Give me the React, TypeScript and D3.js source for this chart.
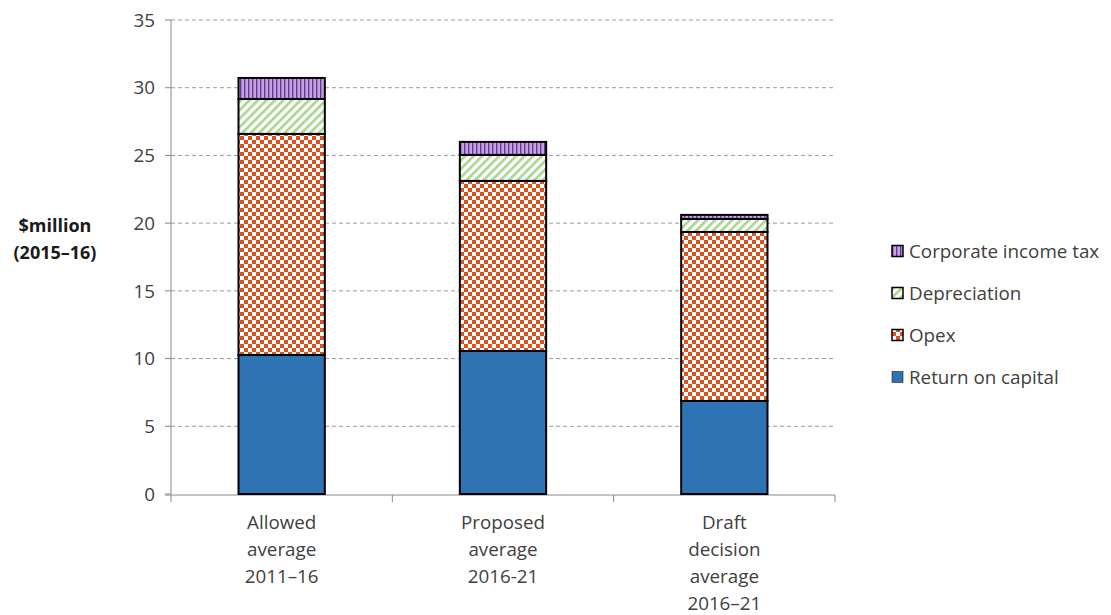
import React from "react";
import * as d3 from "d3";

const categories = [
  ["Allowed", "average", "2011–16"],
  ["Proposed", "average", "2016-21"],
  ["Draft", "decision", "average", "2016–21"],
];
const returnOnCapital = [10.27, 10.56, 6.87];
const opex = [16.32, 12.56, 12.48];
const depreciation = [2.58, 1.92, 0.96];
const corporateIncomeTax = [1.55, 0.96, 0.3];
const seriesNames = ["Return on capital", "Opex", "Depreciation", "Corporate income tax"];
const yTicks = [0, 5, 10, 15, 20, 25, 30, 35];

const W = 1111;
const H = 615;
const left = 171;
const right = 835;
const top = 20;
const bottom = 494;
const font = "'Open Sans', Lato, sans-serif";
const textColor = "#404040";
const fs = 18.8;

const fills = ["#2e74b5", "url(#pOpex)", "url(#pDep)", "url(#pTax)"];

export default function App() {
  const x = d3
    .scaleBand<number>()
    .domain([0, 1, 2])
    .range([left, right])
    .paddingInner(0.61)
    .paddingOuter(0.305);
  const y = d3.scaleLinear().domain([0, 35]).range([bottom, top]);

  const rows = categories.map((_, i) => ({
    i,
    s0: returnOnCapital[i],
    s1: opex[i],
    s2: depreciation[i],
    s3: corporateIncomeTax[i],
  }));
  const stacked = d3.stack<any>().keys(["s0", "s1", "s2", "s3"])(rows);

  const step = (right - left) / 3;
  const boundaries = [0, 1, 2, 3].map((k) => left + k * step);

  const legendItems = [3, 2, 1, 0];

  return (
    <svg width={W} height={H} style={{ position: "absolute", left: 0, top: 0 }}>
      <defs>
        <pattern id="pTax" width="4" height="4" patternUnits="userSpaceOnUse">
          <rect width="4" height="4" fill="#c2a6de" />
          <rect x="0" width="1.4" height="4" fill="#7030a0" />
        </pattern>
        <pattern id="pDep" width="6" height="6" patternUnits="userSpaceOnUse" patternTransform="rotate(45)">
          <rect width="6" height="6" fill="#ffffff" />
          <rect x="0" width="2.6" height="6" fill="#a8d48e" />
        </pattern>
        <pattern id="pOpex" width="8" height="8" patternUnits="userSpaceOnUse">
          <rect width="8" height="8" fill="#ffffff" />
          <rect x="0" y="0" width="4" height="4" fill="#d9541e" />
          <rect x="4" y="4" width="4" height="4" fill="#d9541e" />
        </pattern>
      </defs>

      {/* gridlines */}
      {yTicks.slice(1).map((t) => (
        <line
          key={t}
          x1={left}
          x2={right}
          y1={y(t)}
          y2={y(t)}
          stroke="#9a9a9a"
          strokeWidth={1}
          strokeDasharray="4,3"
        />
      ))}

      {/* y axis */}
      <line x1={left} x2={left} y1={top} y2={bottom} stroke="#888" strokeWidth={1} />
      {yTicks.map((t) => (
        <g key={t}>
          <line x1={left - 6} x2={left} y1={y(t)} y2={y(t)} stroke="#888" />
          <text
            x={left - 16}
            y={y(t)}
            dy="0.36em"
            textAnchor="end"
            fontFamily={font}
            fontSize={fs}
            fill={textColor}
          >
            {t}
          </text>
        </g>
      ))}

      {/* x axis */}
      <line x1={left - 6} x2={right} y1={bottom + 1} y2={bottom + 1} stroke="#888" />
      {boundaries.map((b, k) => (
        <line key={k} x1={b} x2={b} y1={bottom + 1} y2={bottom + 8} stroke="#888" />
      ))}

      {/* bars */}
      {stacked.map((layer, si) =>
        layer.map((d, i) => (
          <rect
            key={si + "-" + i}
            x={x(i)}
            width={x.bandwidth()}
            y={y(d[1])}
            height={y(d[0]) - y(d[1])}
            fill={fills[si]}
            stroke="#000"
            strokeWidth={2}
          />
        ))
      )}

      {/* category labels */}
      {categories.map((lines, i) => (
        <text key={i} textAnchor="middle" fontFamily={font} fontSize={fs} fill={textColor}>
          {lines.map((ln, j) => (
            <tspan key={j} x={(x(i) as number) + x.bandwidth() / 2} y={529 + j * 27}>
              {ln}
            </tspan>
          ))}
        </text>
      ))}

      {/* y axis title */}
      <text textAnchor="middle" fontFamily={font} fontSize={18} fontWeight="bold" fill="#1a1a1a">
        <tspan x={55} y={232}>$million</tspan>
        <tspan x={55} y={259}>(2015–16)</tspan>
      </text>

      {/* legend */}
      {legendItems.map((si, k) => {
        const cy = 251 + k * 42;
        return (
          <g key={si}>
            <rect
              x={892}
              y={cy - 5.5}
              width={11}
              height={11}
              fill={fills[si]}
              stroke="#000"
              strokeWidth={si === 0 ? 0.5 : 1.5}
            />
            <text x={909} y={cy} dy="0.36em" fontFamily={font} fontSize={fs} fill={textColor}>
              {seriesNames[si]}
            </text>
          </g>
        );
      })}
    </svg>
  );
}
